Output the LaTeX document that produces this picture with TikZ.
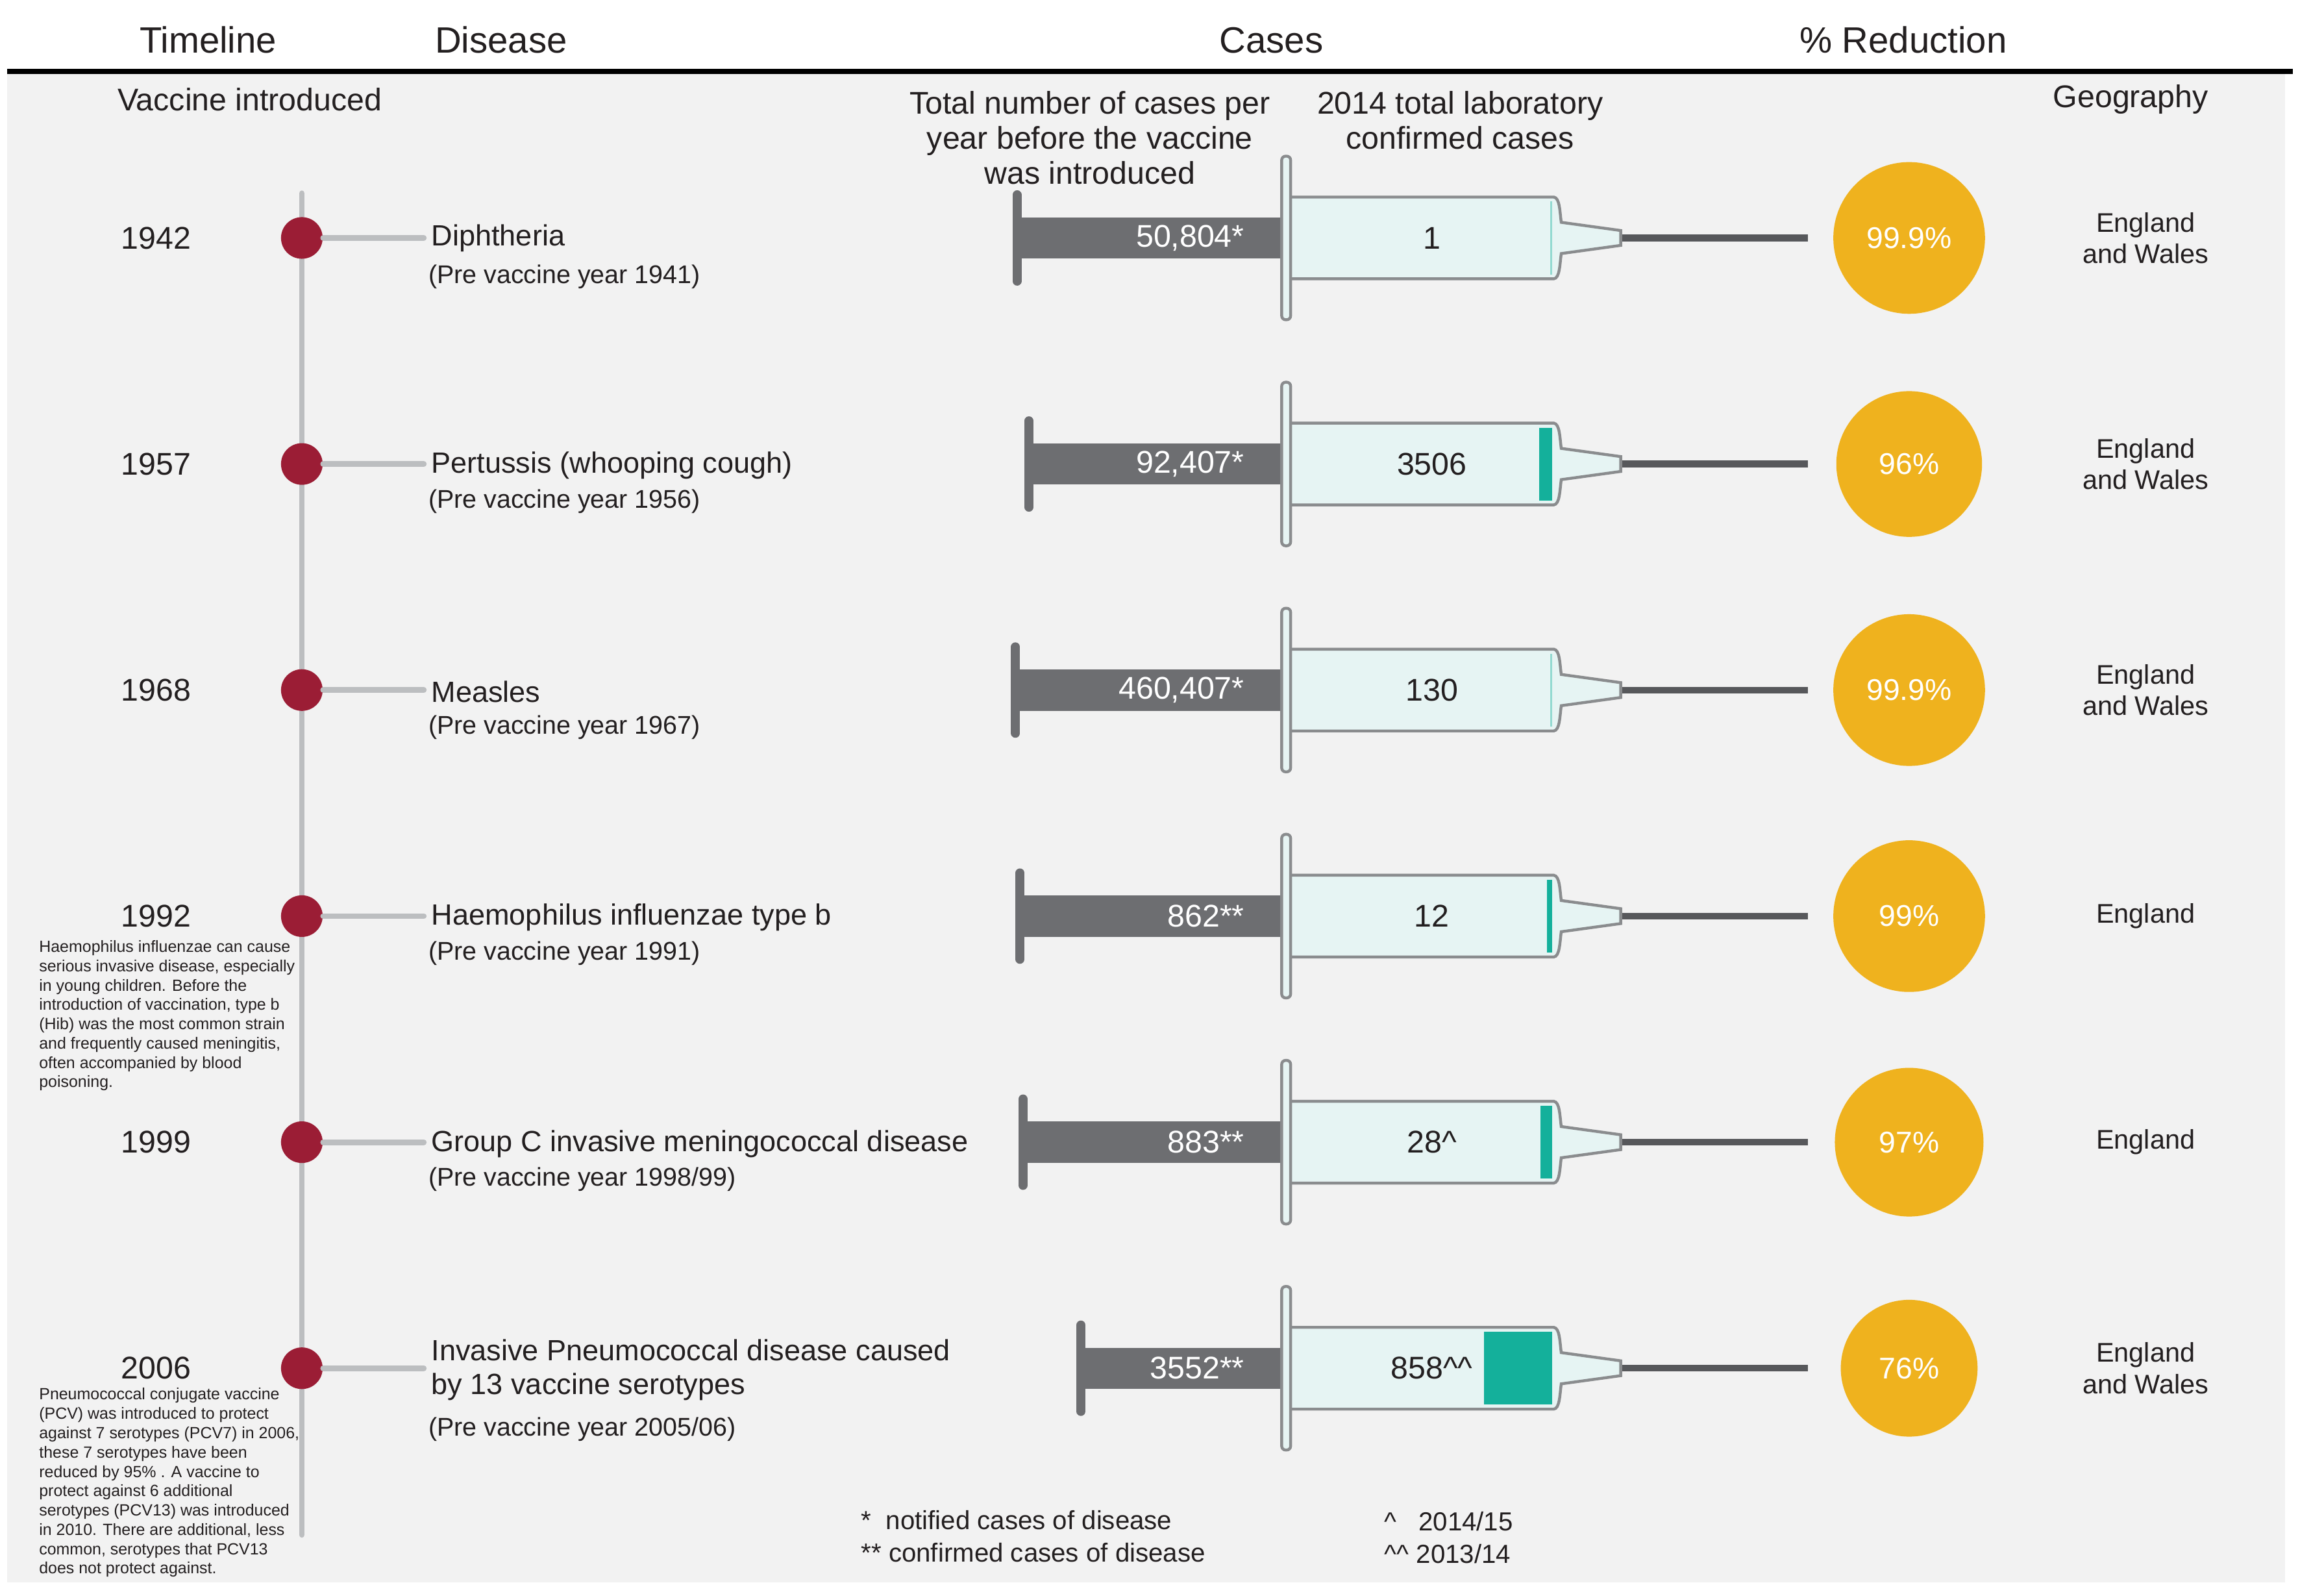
\documentclass[tikz,border=0pt]{standalone}
\usepackage{fontspec}
\setmainfont{Liberation Sans}
\definecolor{bgrey}{HTML}{F2F2F2}
\definecolor{rodgrey}{HTML}{6D6E71}
\definecolor{rimgrey}{HTML}{8A8C8E}
\definecolor{linegrey}{HTML}{BCBEC0}
\definecolor{dotred}{HTML}{9B1D35}
\definecolor{barrel}{HTML}{E6F4F3}
\definecolor{teal}{HTML}{14B09B}
\definecolor{gold}{HTML}{EFB21E}
\definecolor{ink}{HTML}{231F20}
\tikzset{
  head/.style={font=\fontsize{14}{16}\selectfont, text=ink},
  sub/.style={font=\fontsize{12}{13.5}\selectfont, text=ink, align=center},
  dname/.style={font=\fontsize{11.2}{13}\selectfont, text=ink, anchor=west, align=left},
  pre/.style={font=\fontsize{9.8}{11.5}\selectfont, text=ink, anchor=west},
  note/.style={font=\fontsize{6.2}{7.4}\selectfont, text=ink, anchor=north west, align=left, inner sep=0pt},
  dot/.style={circle, fill=dotred, minimum size=28*0.02cm, inner sep=0pt},
  pct/.style={circle, fill=gold, text=white, inner sep=0pt, font=\fontsize{11.5}{13}\selectfont},
}
\begin{document}
\begin{tikzpicture}[x=0.02cm, y=-0.02cm]
    \useasboundingbox (0,0) rectangle (1563,1064);
    \fill[bgrey] (5,48) rectangle (1537,1064);
    \draw[line width=1.8pt] (5,48) -- (1542,48);

    % column headings
    \node[head] (hTime) at (140,27) {Timeline};
    \node[head] (hDis) at (337,27) {Disease};
    \node[head] (hCases) at (855,27) {Cases};
    \node[head] (hRed) at (1280,27) {\% Reduction};
    \node[sub] (sVac) at (168,67) {Vaccine introduced};
    \node[sub, anchor=north] (sBefore) at (733,55) {Total number of cases per\\year before the vaccine\\was introduced};
    \node[sub, anchor=north] (sLab) at (982,55) {2014 total laboratory\\confirmed cases};
    \node[sub] (sGeo) at (1433,67) {Geography};

    % timeline
    \coordinate (tTop) at (203,130);
    \coordinate (tBot) at (203,1032);
    \draw[linegrey, line width=2.2pt, line cap=round] (tTop) -- (tBot);

    \foreach \yr/\cap/\before/\after/\tx/\tc/\p/\r/\geo [count=\i] in {
        1942/684/{50,804*}/1/1042.5/barrel!60!teal/99.9\%/51/{England\\and Wales},
        1957/692/{92,407*}/3506/1035/teal/96\%/49/{England\\and Wales},
        1968/683/{460,407*}/130/1042.5/barrel!60!teal/99.9\%/51/{England\\and Wales},
        1992/686/{862**}/12/1040.5/teal/99\%/51/England,
        1999/688/{883**}/28\textasciicircum/1036/teal/97\%/50/England,
        2006/727/{3552**}/858\textasciicircum\textasciicircum/998/teal/76\%/46/{England\\and Wales}} {
        \pgfmathsetmacro{\c}{160+152*(\i-1)}
        % timeline entry
        \node[sub, font=\fontsize{12}{13.5}\selectfont] (year\i) at (105,\c) {\yr};
        \node[dot] (dot\i) at (203,\c) {};
        \coordinate (link\i) at (285,\c);
        \draw[linegrey, line width=2.2pt, line cap=round] (dot\i) -- (link\i);
        % syringe
        \draw[rodgrey, fill=rodgrey] (\cap,\c-13.5) rectangle (865,\c+13.5);
        \draw[rodgrey, line width=3.5pt, line cap=round] (\cap,\c-29) -- (\cap,\c+29);
        \draw[rimgrey, line width=1.1pt, fill=barrel] (865,\c-27.5) -- (1045,\c-27.5)
            .. controls (1049,\c-27) and (1049,\c-18) .. (1050,\c-10.5)
            -- (1090,\c-5) -- (1090,\c+5) -- (1050,\c+10.5)
            .. controls (1049,\c+18) and (1049,\c+27) .. (1045,\c+27.5) -- (865,\c+27.5);
        \fill[\tc] (\tx,\c-24.5) rectangle (1044,\c+24.5);
        \draw[rimgrey, line width=1.1pt, fill=barrel, rounded corners=1.5pt] (862,\c-55) rectangle (868,\c+55);
        \draw[rodgrey!80!black, line width=2.6pt] (1091,\c) -- (1216,\c);
        \node[sub, text=white, anchor=east] (before\i) at (843,\c) {\before};
        \node[sub] (after\i) at (963,\c) {\after};
        \node[pct, minimum size=2*\r*0.02cm] (pct\i) at (1284,\c) {\p};
        \node[sub, font=\fontsize{10.3}{12}\selectfont] (geo\i) at (1443,\c) {\geo};
    }

    % disease names
    \node[dname] (dis1) at (284,160) {Diphtheria};
    \node[pre] (pre1) at (282,186) {(Pre vaccine year 1941)};
    \node[dname] (dis2) at (284,313) {Pertussis (whooping cough)};
    \node[pre] (pre2) at (282,337) {(Pre vaccine year 1956)};
    \node[dname] (dis3) at (284,465) {Measles};
    \node[pre] (pre3) at (282,489) {(Pre vaccine year 1967)};
    \node[dname] (dis4) at (284,617) {Haemophilus influenzae type b};
    \node[pre] (pre4) at (282,641) {(Pre vaccine year 1991)};
    \node[dname] (dis5) at (284,769) {Group C invasive meningococcal disease};
    \node[pre] (pre5) at (282,793) {(Pre vaccine year 1998/99)};
    \node[dname] (dis6) at (284,921) {Invasive Pneumococcal disease caused\\by 13 vaccine serotypes};
    \node[pre] (pre6) at (282,961) {(Pre vaccine year 2005/06)};

    % side notes
    \node[note] (hibNote) at (26,632) {Haemophilus influenzae can cause\\serious invasive disease, especially\\in young children. Before the\\introduction of vaccination, type b\\(Hib) was the most common strain\\and frequently caused meningitis,\\often accompanied by blood\\poisoning.};
    \node[note] (pcvNote) at (26,933) {Pneumococcal conjugate vaccine\\(PCV) was introduced to protect\\against 7 serotypes (PCV7) in 2006,\\these 7 serotypes have been\\reduced by 95\% . A vaccine to\\protect against 6 additional\\serotypes (PCV13) was introduced\\in 2010. There are additional, less\\common, serotypes that PCV13\\does not protect against.};

    % footnotes
    \node[pre, font=\fontsize{10}{11.5}\selectfont] (fn1) at (573,1022) {*\ \ notified cases of disease};
    \node[pre, font=\fontsize{10}{11.5}\selectfont] (fn2) at (573,1044) {** confirmed cases of disease};
    \node[pre, font=\fontsize{10}{11.5}\selectfont] (fn3) at (925,1023) {\textasciicircum\ \ \ 2014/15};
    \node[pre, font=\fontsize{10}{11.5}\selectfont] (fn4) at (925,1045) {\textasciicircum\textasciicircum\ 2013/14};
\end{tikzpicture}
\end{document}
